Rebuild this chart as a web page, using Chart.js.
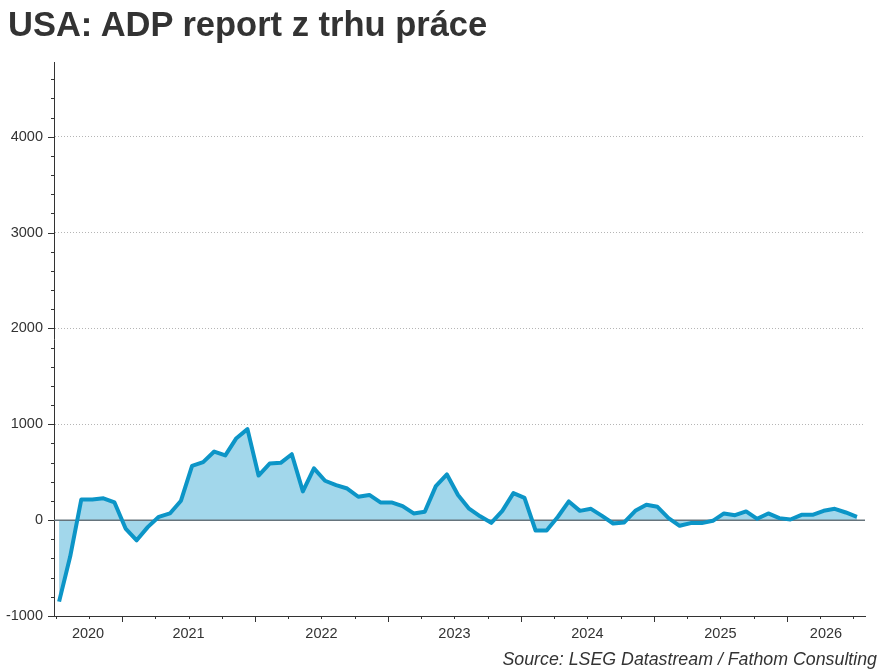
<!DOCTYPE html>
<html>
<head>
<meta charset="utf-8">
<script src="https://cdn.jsdelivr.net/npm/chart.js@4.4.1/dist/chart.umd.min.js"></script>
<style>
  body { margin: 0; background: #fff; }
  #wrap { position: relative; width: 891px; height: 670px; }
  #title {
    position: absolute; left: 8px; top: 7px;
    font: bold 34.5px/34px "Liberation Sans", Arial, sans-serif;
    color: #333; white-space: nowrap;
  }
  #source {
    position: absolute; right: 14px; top: 650px;
    font: italic 17.8px/18px "Liberation Sans", Arial, sans-serif;
    color: #333; white-space: nowrap;
  }
  canvas { position: absolute; left: 0; top: 0; }
</style>
</head>
<body>
<div id="wrap">
  <canvas id="adpChart" width="891" height="670"></canvas>
  <div id="title">USA: ADP report z trhu práce</div>
  <div id="source">Source: LSEG Datastream / Fathom Consulting</div>
</div>
<script>
// monthly values (thousands), first one is Jul 2020
const firstMonth = 6; // months since Jan 2020
const adpValues = [
  -850, -380, 215, 215, 228, 185, -88, -210, -73, 35, 70, 203,
  566, 605, 716, 675, 855, 950, 465, 590, 598, 688, 300, 540,
  411, 366, 330, 244, 263, 185, 185, 146, 70, 87, 355, 477,
  263, 120, 40, -28, 97, 282, 233, -108, -108, 33, 195, 97,
  118, 45, -35, -24, 97, 160, 139, 21, -59, -31, -31, -7,
  70, 52, 91, 14, 70, 21, 7, 56, 56, 98, 118, 80,
  35
];
const years = ['2020', '2021', '2022', '2023', '2024', '2025', '2026'];
const yTicks = [-1000, 0, 1000, 2000, 3000, 4000];

const xMin = 5.86, xMax = 79.05; // visible range, months since Jan 2020
const pointShift = 0.32;          // points sit a bit after the month start

const points = adpValues.map((v, i) => ({ x: firstMonth + i + pointShift, y: v }));

// year labels go in the middle of the visible part of each year
const yearCenters = years.map((y, i) => {
  const a = Math.max(i * 12, xMin), b = Math.min(i * 12 + 12, xMax);
  return (a + b) / 2;
});

const axisPlugin = {
  id: 'axisExtras',
  beforeDatasetDraw(chart) {
    // zero line over the fill, under the line
    const { ctx, scales: { x, y } } = chart;
    const py = y.getPixelForValue(0);
    ctx.save();
    ctx.strokeStyle = '#66747c';
    ctx.lineWidth = 1.5;
    ctx.beginPath();
    ctx.moveTo(x.left, py);
    ctx.lineTo(x.right, py);
    ctx.stroke();
    ctx.restore();
  },
  afterDraw(chart) {
    const { ctx, scales: { x, y } } = chart;
    ctx.save();
    ctx.strokeStyle = '#333';
    ctx.lineWidth = 1;
    ctx.beginPath();
    for (let m = 6; m <= xMax; m += 3) {
      const px = Math.round(x.getPixelForValue(m)) + 0.5;
      const len = m % 12 === 0 ? 6 : 3;
      ctx.moveTo(px, y.bottom);
      ctx.lineTo(px, y.bottom + len);
    }
    for (let v = -1000; v <= y.max; v += 200) {
      const py = Math.round(y.getPixelForValue(v)) + 0.5;
      const len = v % 1000 === 0 ? 6 : 3;
      ctx.moveTo(x.left, py);
      ctx.lineTo(x.left - len, py);
    }
    ctx.stroke();
    ctx.restore();
  }
};

new Chart(document.getElementById('adpChart'), {
  type: 'line',
  data: {
    datasets: [{
      data: points,
      borderColor: '#0c95c7',
      backgroundColor: '#a2d7eb',
      borderWidth: 4,
      borderJoinStyle: 'round',
      fill: 'origin',
      pointRadius: 0,
      tension: 0
    }]
  },
  options: {
    responsive: false,
    animation: false,
    layout: { padding: { top: 62, right: 26, left: 0, bottom: 0 } },
    plugins: { legend: { display: false }, tooltip: { enabled: false } },
    scales: {
      x: {
        type: 'linear',
        min: xMin,
        max: xMax,
        afterBuildTicks: s => { s.ticks = yearCenters.map(v => ({ value: v })); },
        afterFit: s => { s.height = 54; },
        ticks: {
          callback: (v, i) => years[i],
          autoSkip: false,
          maxRotation: 0,
          padding: 9,
          color: '#333',
          font: { family: 'Liberation Sans, Arial, sans-serif', size: 14.5 }
        },
        grid: { display: true, drawOnChartArea: false, drawTicks: false },
        border: { color: '#333', width: 1 }
      },
      y: {
        min: -1000,
        max: 4780,
        afterBuildTicks: s => { s.ticks = yTicks.map(v => ({ value: v })); },
        afterFit: s => { s.width = 54; },
        ticks: {
          callback: v => String(v),
          padding: 11,
          color: '#333',
          font: { family: 'Liberation Sans, Arial, sans-serif', size: 14.5 }
        },
        grid: {
          drawTicks: false,
          color: c => (c.tick && c.tick.value > 0) ? '#b5b5b5' : 'rgba(0,0,0,0)',
          lineWidth: 1
        },
        border: { color: '#333', width: 1, dash: [1, 2] }
      }
    }
  },
  plugins: [axisPlugin]
});
</script>
</body>
</html>
